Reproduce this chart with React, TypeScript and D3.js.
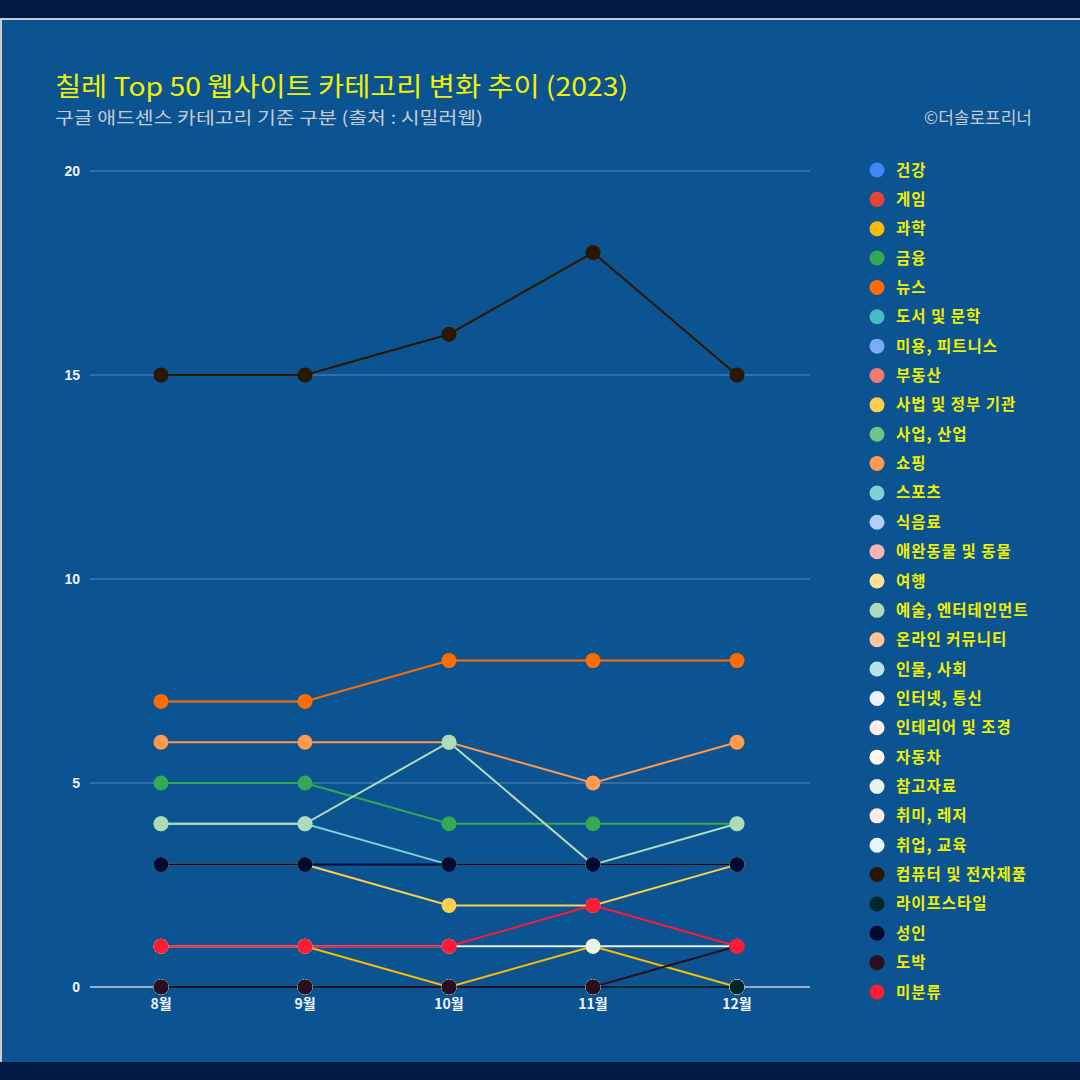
import React from "react";
import * as d3 from "d3";

const months = ["8월", "9월", "10월", "11월", "12월"];
const categories = [
  "건강", "게임", "과학", "금융", "뉴스", "도서 및 문학", "미용, 피트니스", "부동산",
  "사법 및 정부 기관", "사업, 산업", "쇼핑", "스포츠", "식음료", "애완동물 및 동물", "여행",
  "예술, 엔터테인먼트", "온라인 커뮤니티", "인물, 사회", "인터넷, 통신", "인테리어 및 조경",
  "자동차", "참고자료", "취미, 레저", "취업, 교육", "컴퓨터 및 전자제품", "라이프스타일",
  "성인", "도박", "미분류",
];
const colors = [
  "#4285f4", "#ea4335", "#fbbc04", "#34a853", "#ff6d01", "#46bdc6", "#7baaf7", "#f07b72",
  "#fcd04f", "#71c287", "#ff994d", "#7ed1d7", "#b3cefb", "#f7b4ae", "#fde293",
  "#aedcba", "#ffc599", "#b5e3e8", "#ecf3fe", "#fdedec",
  "#fff8e8", "#e6f4ea", "#fdeae6", "#e8f5fd", "#2b1700", "#002626",
  "#000a33", "#2c0f1f", "#ff1a35",
];
const values: number[][] = [
  [0, 0, 0, 0, 0], // 건강
  [0, 0, 0, 0, 0], // 게임
  [1, 1, 0, 1, 0], // 과학
  [5, 5, 4, 4, 4], // 금융
  [7, 7, 8, 8, 8], // 뉴스
  [0, 0, 0, 0, 0], // 도서 및 문학
  [0, 0, 0, 0, 0], // 미용, 피트니스
  [0, 0, 0, 0, 0], // 부동산
  [3, 3, 2, 2, 3], // 사법 및 정부 기관
  [0, 0, 0, 0, 0], // 사업, 산업
  [6, 6, 6, 5, 6], // 쇼핑
  [4, 4, 3, 3, 3], // 스포츠
  [0, 0, 0, 0, 0], // 식음료
  [0, 0, 0, 0, 0], // 애완동물 및 동물
  [0, 0, 0, 0, 0], // 여행
  [4, 4, 6, 3, 4], // 예술, 엔터테인먼트
  [0, 0, 0, 0, 0], // 온라인 커뮤니티
  [0, 0, 0, 0, 0], // 인물, 사회
  [0, 0, 0, 0, 0], // 인터넷, 통신
  [0, 0, 0, 0, 0], // 인테리어 및 조경
  [0, 0, 0, 0, 0], // 자동차
  [1, 1, 1, 1, 1], // 참고자료
  [0, 0, 0, 0, 0], // 취미, 레저
  [0, 0, 0, 0, 0], // 취업, 교육
  [15, 15, 16, 18, 15], // 컴퓨터 및 전자제품
  [0, 0, 0, 0, 0], // 라이프스타일
  [3, 3, 3, 3, 3], // 성인
  [0, 0, 0, 0, 1], // 도박
  [1, 1, 1, 2, 1], // 미분류
];
const yTicks = [0, 5, 10, 15, 20];

const title = "칠레 Top 50 웹사이트 카테고리 변화 추이 (2023)";
const subtitle = "구글 애드센스 카테고리 기준 구분 (출처 : 시밀러웹)";
const credit = "©더솔로프리너";

export default function App() {
  const W = 1080, H = 1080;
  const left = 90, right = 810, top = 171, bottom = 987;
  const x = d3.scaleBand<string>().domain(months).range([left, right]);
  const y = d3.scaleLinear().domain([0, 20]).range([bottom, top]);
  const cx = (m: string) => (x(m) as number) + x.bandwidth() / 2 - 1;
  const line = d3.line<number>().x((_, i) => cx(months[i])).y((v) => y(v));
  const legY = d3.scalePoint<string>().domain(categories).range([170, 992]);
  const kfont = "'Noto Sans CJK KR', 'Noto Sans', sans-serif";
  const afont = "'Liberation Sans', Arial, sans-serif";

  return (
    <div style={{ position: "fixed", left: 0, top: 0, width: W, height: H }}>
      <svg width={W} height={H} style={{ display: "block" }}>
        <rect x={0} y={0} width={W} height={H} fill="#001a45" />
        <rect x={0} y={18} width={W} height={2} fill="#c9ccd2" />
        <rect x={0} y={18} width={2} height={1044} fill="#c9ccd2" />
        <rect x={2} y={20} width={W - 2} height={1042} fill="#0c5392" />

        <text x={55} y={96} fill="#f2f200" fontFamily={kfont} fontSize={26} fontWeight={400}
          textLength={573} lengthAdjust="spacingAndGlyphs">{title}</text>
        <text x={55} y={124} fill="#c6ccd6" fontFamily={kfont} fontSize={17}
          textLength={428} lengthAdjust="spacingAndGlyphs">{subtitle}</text>
        <text x={1032} y={124} fill="#c6ccd6" fontFamily={kfont} fontSize={17} textAnchor="end">{credit}</text>

        {yTicks.filter((t) => t > 0).map((t) => (
          <line key={t} x1={left} x2={right} y1={y(t)} y2={y(t)} stroke="#3f78b2" strokeWidth={1.5} />
        ))}
        <line x1={left} x2={right} y1={y(0)} y2={y(0)} stroke="#c3cde0" strokeWidth={1.5} />
        {yTicks.map((t) => (
          <text key={t} x={80} y={y(t) + 5} textAnchor="end" fill="#eef2f8" fontFamily={afont}
            fontSize={14} fontWeight="bold">{t}</text>
        ))}
        {months.map((m) => (
          <text key={m} x={cx(m)} y={1009} textAnchor="middle" fill="#eef2f8" fontFamily={kfont}
            fontSize={14} fontWeight="bold">{m}</text>
        ))}

        {values.map((vals, i) => (
          <path key={"l" + i} d={line(vals) || ""} fill="none" stroke={colors[i]} strokeWidth={2} />
        ))}
        {values.map((vals, i) => (
          <g key={"m" + i}>
            {vals.map((v, j) => (
              <circle key={j} cx={cx(months[j])} cy={y(v)} r={7.5} fill={colors[i]} />
            ))}
          </g>
        ))}

        {categories.map((c, i) => (
          <g key={c}>
            <circle cx={877} cy={legY(c) as number} r={7.5} fill={colors[i]} />
            <text x={896} y={(legY(c) as number) + 5.5} fill="#eef000" fontFamily={kfont} fontSize={15.5}
              fontWeight="bold" letterSpacing={1}>{c}</text>
          </g>
        ))}
      </svg>
    </div>
  );
}
